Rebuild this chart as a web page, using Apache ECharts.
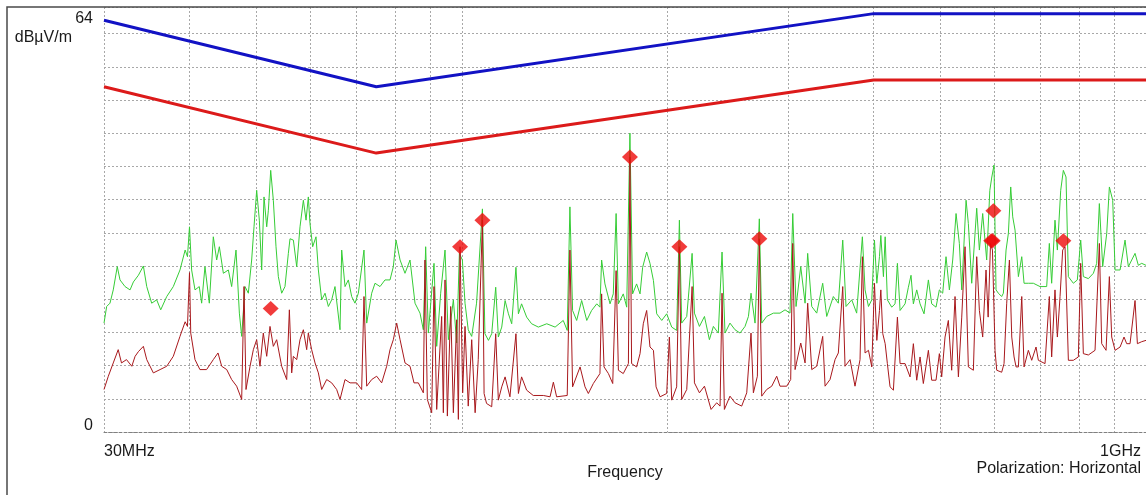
<!DOCTYPE html>
<html><head><meta charset="utf-8">
<script src="https://cdn.jsdelivr.net/npm/echarts@6/dist/echarts.min.js"></script>
<style>html,body{margin:0;padding:0;background:#fff}#c{width:1146px;height:495px}</style>
</head><body><div id="c"></div>
<script>
// ---- data (frequency in MHz, level in dBµV/m) ----
const gridFreqs = [30,40,50,60,70,80,90,100,200,300,400,500,600,700,800,900,1000];
const xTickFreqs = [30,1000];
const xTickLabels = ['30MHz','1GHz'];
const yTickLabels = {0:'0',64:'64'};
const limitBlue = [[30,62],[75,52],[400,63],[1000,63]];
const limitRed  = [[30,52],[75,42],[400,53],[1000,53]];
const peakTrace = [[30.0,16.4],[30.27,18.9],[30.61,19.4],[30.95,21.4],[31.37,24.9],[31.66,22.9],[32.2,21.9],[32.75,21.4],[33.12,22.6],[33.68,23.6],[34.25,25.0],[34.64,21.9],[35.22,19.4],[35.82,19.9],[36.31,18.4],[37.05,20.4],[37.88,21.9],[38.74,24.4],[39.42,27.4],[39.73,26.4],[40.0,30.9],[40.29,24.4],[40.75,21.4],[41.34,21.9],[41.67,19.4],[42.14,24.9],[42.76,19.4],[43.34,29.4],[43.83,25.9],[44.23,27.9],[44.83,23.9],[45.59,24.4],[46.1,21.9],[46.78,27.4],[47.31,17.9],[47.68,14.4],[48.22,21.9],[48.76,20.9],[49.31,25.9],[49.7,30.9],[50.15,36.4],[50.6,31.9],[51.0,24.4],[51.4,35.4],[51.87,30.9],[52.16,33.4],[52.57,39.4],[53.04,34.9],[53.52,27.9],[53.94,23.4],[54.55,20.9],[55.16,21.9],[55.79,26.9],[56.1,29.1],[56.74,28.9],[57.38,24.9],[58.02,30.9],[58.68,34.9],[59.21,31.9],[59.67,35.4],[60.0,31.4],[60.55,27.9],[61.23,29.4],[61.72,24.4],[62.41,19.9],[63.12,20.9],[63.83,18.9],[64.55,19.9],[65.27,21.9],[66.38,15.4],[66.76,27.4],[67.51,21.9],[68.27,22.9],[69.04,20.4],[69.81,19.4],[70.61,20.9],[71.96,27.4],[72.62,16.4],[73.85,20.9],[74.68,22.4],[75.95,21.9],[77.23,22.9],[78.55,22.9],[79.43,24.9],[80.15,28.9],[81.25,25.9],[82.61,23.9],[84.02,25.9],[85.44,19.4],[86.89,17.9],[87.87,15.4],[88.56,27.9],[89.36,14.9],[91.08,25.4],[91.91,12.9],[93.15,20.9],[94.52,27.4],[95.59,13.9],[97.21,19.9],[98.3,13.4],[99.2,26.9],[100.2,25.9],[101.1,19.4],[102.2,15.4],[103.4,14.4],[105.1,19.4],[107.2,33.6],[108.1,14.8],[109.4,13.8],[110.6,14.8],[112.1,21.8],[113.1,14.3],[114.4,15.8],[115.7,19.8],[117.0,17.8],[118.3,16.3],[120.0,24.8],[121.0,17.8],[122.3,19.3],[124.4,17.3],[126.5,16.3],[129.4,15.8],[133.1,16.3],[136.9,15.8],[140.7,16.8],[142.6,15.3],[143.9,33.9],[145.2,18.3],[147.2,16.8],[149.7,19.8],[152.3,16.8],[154.8,18.3],[157.5,19.3],[159.2,18.8],[160.1,25.9],[161.9,22.3],[164.7,19.3],[166.5,20.8],[168.1,32.9],[169.4,19.3],[172.2,20.8],[174.2,18.8],[176.1,45.0],[177.7,20.8],[180.1,22.3],[182.2,20.8],[183.8,24.8],[186.3,27.1],[188.4,25.4],[190.6,22.8],[192.7,17.8],[196.0,16.8],[199.3,17.8],[202.7,15.8],[206.1,15.3],[208.0,31.9],[209.6,16.4],[213.2,17.4],[217.1,26.9],[218.8,17.9],[222.5,15.9],[226.3,17.4],[230.1,13.9],[233.2,15.9],[237.1,14.9],[240.1,27.1],[242.5,14.9],[246.6,16.4],[250.8,15.4],[255.1,14.9],[259.4,15.9],[262.4,17.4],[264.7,20.9],[268.3,16.4],[272.2,32.1],[274.4,16.4],[279.0,17.4],[285.4,17.9],[291.8,17.9],[296.8,18.4],[301.8,17.9],[304.6,32.9],[308.0,18.9],[312.9,24.9],[317.5,19.4],[320.3,26.9],[324.7,18.9],[330.2,17.9],[336.9,22.4],[341.5,17.4],[349.2,20.4],[355.1,19.4],[360.4,28.9],[364.4,18.9],[371.5,19.9],[377.7,17.9],[385.0,29.4],[388.5,21.4],[393.0,18.9],[397.4,19.9],[401.0,28.9],[404.2,22.4],[407.8,26.4],[409.7,29.6],[413.3,23.4],[415.7,29.4],[418.8,19.9],[425.0,18.8],[429.8,19.3],[433.2,25.4],[437.1,18.3],[444.5,19.3],[449.5,21.8],[453.5,23.6],[457.1,19.3],[462.3,21.4],[467.5,19.3],[473.8,17.8],[480.8,22.9],[486.2,19.3],[493.3,18.8],[498.9,21.4],[504.5,20.9],[510.2,26.4],[516.0,21.4],[521.8,25.9],[527.7,32.9],[533.6,28.4],[537.9,21.4],[545.8,34.9],[550.0,31.4],[556.3,22.4],[565.7,33.7],[570.8,27.4],[577.2,32.9],[585.0,25.9],[591.2,36.4],[595.2,38.4],[599.6,40.2],[603.7,21.4],[608.5,20.9],[615.3,20.4],[618.8,20.9],[624.4,27.4],[629.3,29.9],[634.3,36.9],[638.6,32.4],[643.6,30.4],[650.9,23.4],[658.3,26.4],[663.4,22.4],[673.1,22.4],[684.5,22.4],[700.0,21.9],[715.9,21.9],[722.3,28.4],[728.0,22.4],[736.2,31.9],[742.1,27.4],[750.5,36.4],[757.2,39.4],[764.0,38.4],[770.1,23.4],[783.1,22.4],[793.7,22.9],[802.7,28.9],[809.9,23.4],[823.7,23.1],[837.7,23.9],[847.1,25.4],[854.7,34.4],[864.4,24.9],[876.2,29.9],[884.0,36.9],[894.0,34.9],[901.2,24.4],[916.5,24.4],[931.9,28.9],[942.4,24.9],[963.8,26.9],[974.6,25.1],[985.6,25.4],[1000,25.1]];
const avgTrace = [[30.0,6.4],[30.44,8.4],[30.95,10.4],[31.47,12.4],[31.82,10.4],[32.36,10.9],[32.94,9.9],[33.31,11.4],[33.68,12.1],[34.25,12.9],[34.64,10.9],[35.42,8.9],[36.23,9.4],[37.05,9.9],[37.88,11.4],[38.74,14.4],[39.42,16.6],[39.73,15.9],[40.0,24.0],[40.17,14.9],[40.75,10.9],[41.43,9.4],[42.37,9.4],[43.34,10.9],[44.03,11.9],[44.58,9.9],[45.34,9.4],[46.1,7.9],[46.88,6.9],[47.68,4.9],[48.06,21.9],[48.38,6.4],[49.04,9.9],[49.59,12.4],[50.15,13.9],[50.71,9.9],[51.28,14.9],[51.87,11.4],[52.45,15.9],[53.04,12.9],[53.64,13.9],[54.55,9.9],[55.48,7.9],[55.98,18.4],[56.42,8.9],[56.74,11.4],[57.38,10.9],[58.02,13.9],[58.68,15.4],[59.34,12.4],[59.67,14.9],[60.34,12.4],[61.03,10.4],[61.72,8.9],[62.41,6.4],[63.47,7.9],[64.55,7.4],[65.64,6.4],[66.38,4.9],[67.51,7.9],[68.66,7.4],[70.21,7.4],[71.4,6.4],[71.96,20.4],[72.62,6.9],[73.85,7.9],[75.1,8.4],[76.37,7.4],[77.67,9.9],[78.55,12.4],[79.43,13.9],[80.33,16.4],[81.25,13.9],[82.61,10.4],[84.02,9.9],[85.15,7.4],[86.4,7.4],[87.87,5.9],[88.36,25.9],[89.06,4.9],[90.37,2.9],[91.08,21.9],[91.91,3.4],[93.46,17.4],[93.99,2.9],[94.52,22.9],[95.27,2.4],[96.34,18.9],[97.21,2.9],[98.3,16.9],[98.86,1.9],[99.42,27.9],[100.3,5.9],[101.1,15.9],[102.2,3.9],[103.4,13.9],[104.6,2.9],[105.7,10.9],[107.2,31.9],[107.8,5.8],[108.7,4.3],[110.6,3.8],[112.1,14.8],[113.1,4.8],[114.4,6.8],[115.7,8.3],[117.6,5.3],[120.0,14.8],[121.0,5.8],[122.3,8.3],[124.4,6.3],[127.2,5.5],[131.6,5.5],[134.6,5.3],[136.1,7.5],[137.6,5.3],[142.6,5.5],[143.9,27.4],[145.2,6.8],[148.9,9.8],[151.4,6.8],[153.1,5.8],[155.7,7.3],[159.2,8.8],[160.1,20.8],[161.4,9.8],[163.8,8.8],[166.2,7.3],[168.1,24.3],[169.4,9.3],[172.2,8.8],[175.2,10.3],[176.1,41.4],[177.1,10.3],[180.1,9.8],[182.2,11.8],[184.2,16.3],[186.3,18.3],[188.4,12.8],[190.6,12.3],[192.3,6.8],[194.9,5.3],[199.3,5.8],[201.1,14.3],[202.7,4.8],[206.1,6.8],[208.0,27.9],[209.6,4.9],[213.2,6.4],[217.1,21.9],[218.8,7.4],[222.5,5.9],[226.3,6.9],[231.4,3.4],[235.8,4.4],[238.5,3.9],[240.1,20.9],[242.0,3.4],[246.6,5.4],[250.8,4.4],[256.5,3.9],[260.9,5.9],[264.7,14.9],[266.8,5.9],[270.4,8.4],[272.2,29.1],[274.4,5.4],[279.0,6.4],[283.8,6.9],[288.6,8.4],[291.8,6.9],[298.5,6.9],[302.5,7.9],[304.6,28.4],[307.0,9.4],[312.9,13.4],[317.5,10.4],[320.3,19.4],[324.7,9.4],[330.2,9.9],[336.9,14.4],[339.6,6.9],[345.3,7.9],[351.2,10.9],[355.1,11.9],[360.4,21.9],[363.2,9.9],[369.4,10.9],[375.6,6.9],[382.0,10.9],[385.0,26.4],[388.5,11.9],[393.0,12.3],[397.4,9.8],[401.0,22.4],[404.2,13.8],[407.8,18.3],[409.7,21.4],[412.4,14.8],[415.7,13.3],[418.8,10.3],[422.6,6.8],[427.4,6.3],[433.2,17.3],[437.1,10.3],[444.5,10.3],[452.0,8.3],[457.1,13.3],[462.3,7.8],[467.5,11.3],[472.7,7.3],[480.8,12.3],[486.2,7.8],[493.3,7.8],[498.9,11.8],[502.8,8.3],[508.5,14.3],[514.2,16.8],[520.0,9.3],[525.9,20.4],[531.9,8.3],[537.9,17.3],[543.9,27.9],[550.0,9.8],[559.4,9.3],[565.7,26.4],[570.8,18.3],[577.2,14.3],[583.7,24.4],[587.9,17.3],[592.6,28.4],[596.5,27.4],[601.7,12.3],[605.1,9.3],[615.3,9.0],[620.2,10.3],[625.8,19.4],[631.5,25.9],[636.5,14.3],[641.5,11.3],[645.8,9.8],[650.9,9.8],[658.3,20.4],[663.4,9.8],[673.1,12.3],[680.7,10.8],[690.7,12.8],[696.1,10.8],[711.9,10.3],[722.3,20.4],[728.0,11.3],[736.2,21.4],[742.1,14.3],[748.8,20.4],[755.5,27.4],[761.5,27.9],[770.1,10.8],[783.1,10.8],[796.4,11.3],[802.7,25.4],[809.9,11.8],[823.7,11.6],[842.4,12.3],[854.7,28.4],[861.5,13.3],[874.2,12.3],[884.0,23.4],[891.0,14.3],[901.2,12.3],[916.5,12.8],[928.7,14.3],[937.1,13.3],[947.7,13.3],[963.8,19.8],[971.4,13.3],[985.6,13.6],[1000,13.8]];
const markerPoints = [[52.57,18.6],[99.42,27.9],[107.2,31.9],[176.1,41.4],[208.0,27.9],[272.2,29.1],[594.0,28.8],[597.0,28.8],[598.3,33.3],[757.2,28.8]];

// ---- chart ----
const lg = f => Math.log10(f);
const toXY = arr => arr.map(p => [lg(p[0]), p[1]]);
const FONT = '"Liberation Sans", Arial, sans-serif';
const TXT = '#1a1a1a';
const chart = echarts.init(document.getElementById('c'), null, {renderer:'canvas'});
const gridLine = {show:true, lineStyle:{color:'#a8a8a8', type:[2,2], width:1}};
chart.setOption({
  animation:false,
  backgroundColor:'#fff',
  grid:{left:104, right:0, top:7, bottom:63, containLabel:false},
  xAxis:{
    type:'value', min:lg(30), max:lg(1000),
    name:'Frequency', nameLocation:'middle', nameGap:27,
    nameTextStyle:{fontFamily:FONT, fontSize:16, color:TXT},
    axisLine:{show:true, lineStyle:{color:'#808080', type:[3,2], width:1}},
    axisTick:{show:false, customValues:gridFreqs.map(lg)},
    splitLine:gridLine,
    axisLabel:{
      customValues:xTickFreqs.map(lg), margin:12,
      fontFamily:FONT, fontSize:16, color:TXT,
      alignMinLabel:'left', alignMaxLabel:'right',
      showMinLabel:true, showMaxLabel:true,
      formatter:(v)=>{ const i = xTickFreqs.findIndex(f=>Math.abs(lg(f)-v)<1e-6); return i===1 ? '{r|'+xTickLabels[i]+'}' : (i===0 ? xTickLabels[0] : ''); },
      rich:{r:{fontFamily:FONT, fontSize:16, color:TXT, padding:[0,5,0,0]}}
    }
  },
  yAxis:{
    type:'value', min:0, max:64, interval:5,
    name:'dBµV/m', nameLocation:'end', nameGap:-31,
    nameTextStyle:{fontFamily:FONT, fontSize:16, color:TXT, align:'right', verticalAlign:'middle', padding:[0,32,0,0]},
    axisLine:{show:false}, axisTick:{show:false},
    splitLine:gridLine,
    axisLabel:{
      margin:11, showMinLabel:true, showMaxLabel:true,
      fontFamily:FONT, fontSize:16, color:TXT,
      formatter:(v)=> v===0 ? '{lo|'+yTickLabels[0]+'}' : (v===64 ? '{hi|'+yTickLabels[64]+'}' : ''),
      rich:{
        lo:{fontFamily:FONT, fontSize:16, color:TXT, padding:[0,0,12,0]},
        hi:{fontFamily:FONT, fontSize:16, color:TXT, padding:[24,0,0,0]}
      }
    }
  },
  graphic:[
    {type:'rect', shape:{x:7, y:7, width:1300, height:700}, style:{fill:'none', stroke:'#4a4a4a', lineWidth:1.5}, z:100, silent:true},
    {type:'text', right:5, top:461, style:{text:'Polarization: Horizontal', font:'16px '+FONT, fill:TXT}, z:100}
  ],
  series:[
    {type:'line', data:toXY(peakTrace), showSymbol:false, lineStyle:{color:'#36cc36', width:1}, z:2},
    {type:'line', data:toXY(avgTrace), showSymbol:false, lineStyle:{color:'#a8181c', width:1}, z:3},
    {type:'line', data:toXY(limitRed), showSymbol:false, lineStyle:{color:'#dc1a1a', width:3}, z:4},
    {type:'line', data:toXY(limitBlue), showSymbol:false, lineStyle:{color:'#1212c4', width:3}, z:4},
    {type:'scatter', data:toXY(markerPoints), symbol:'diamond', symbolSize:[16,15], itemStyle:{color:'#ee0a0a'}, z:5}
  ]
});
</script>
</body></html>
